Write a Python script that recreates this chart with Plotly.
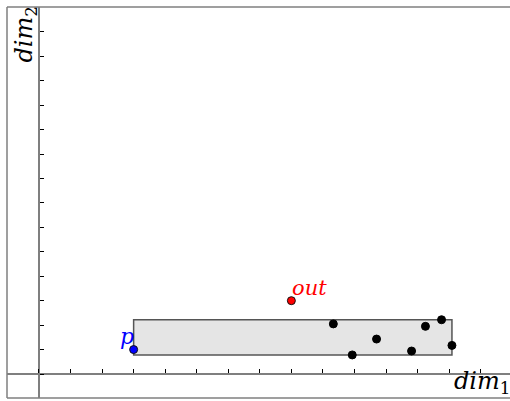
import plotly.graph_objects as go

# data
p_point = (3.0, 1.0)
out_point = (8.0, 3.0)
pts_x = [9.33, 9.93, 10.70, 11.81, 12.25, 12.76, 13.09]
pts_y = [2.05, 0.78, 1.43, 0.94, 1.95, 2.22, 1.17]

x_range = [-1.014, 14.93]
y_range = [-0.982, 15.016]

W, H = 510, 401
ml, mr, mt, mb = 7, 0, 7, 3

all_x = pts_x + [p_point[0]]
all_y = pts_y + [p_point[1]]
rx0, rx1 = min(all_x), max(all_x)
ry0, ry1 = min(all_y), max(all_y)

FONT = "DejaVu Serif"
GRAY = "#7f7f7f"

fig = go.Figure()

fig.add_shape(type="rect", x0=rx0, x1=rx1, y0=ry0, y1=ry1,
              fillcolor="#e5e5e5", line=dict(color="#555555", width=1.5), layer="below")

fig.add_trace(go.Scatter(x=pts_x, y=pts_y, mode="markers",
                         marker=dict(size=8, color="black", line=dict(color="black", width=1)),
                         showlegend=False, hoverinfo="skip"))
fig.add_trace(go.Scatter(x=[p_point[0]], y=[p_point[1]], mode="markers",
                         marker=dict(size=8, color="#0000ff", line=dict(color="#111111", width=1)),
                         showlegend=False, hoverinfo="skip"))
fig.add_trace(go.Scatter(x=[out_point[0]], y=[out_point[1]], mode="markers",
                         marker=dict(size=8, color="#ff0000", line=dict(color="#111111", width=1)),
                         showlegend=False, hoverinfo="skip"))

# frame lines (left, top, bottom)
for s in [dict(x0=0, x1=0, y0=0, y1=1), dict(x0=0, x1=1, y0=1, y1=1), dict(x0=0, x1=1, y0=0, y1=0)]:
    fig.add_shape(type="line", xref="paper", yref="paper", line=dict(color=GRAY, width=1.5), **s)

xpos = (0 - y_range[0]) / (y_range[1] - y_range[0])
ypos = (0 - x_range[0]) / (x_range[1] - x_range[0])

fig.add_annotation(x=p_point[0], y=p_point[1], text="<i>p</i>", showarrow=False,
                   xanchor="right", yanchor="bottom", xshift=2, yshift=-1,
                   font=dict(family=FONT, size=22, color="#0000ff"))
fig.add_annotation(x=out_point[0], y=out_point[1], text="<i>out</i>", showarrow=False,
                   xanchor="left", yanchor="bottom", xshift=-1, yshift=-1,
                   font=dict(family=FONT, size=21, color="#ff0000"))
fig.add_annotation(x=1, y=0, xref="paper", yref="paper", text="<i>dim</i><sub>1</sub>",
                   showarrow=False, xanchor="right", yanchor="bottom", xshift=2, yshift=-2,
                   font=dict(family=FONT, size=24, color="black"))
fig.add_annotation(x=0, y=1, xref="paper", yref="paper", text="<i>dim</i><sub>2</sub>",
                   showarrow=False, textangle=-90, xanchor="left", yanchor="top", xshift=0, yshift=2,
                   font=dict(family=FONT, size=24, color="black"))

fig.update_layout(
    width=W, height=H, margin=dict(l=ml, r=mr, t=mt, b=mb),
    paper_bgcolor="white", plot_bgcolor="white",
    xaxis=dict(range=x_range, showgrid=False, zeroline=False, showline=True, linecolor=GRAY, linewidth=1.5,
               anchor="free", position=xpos, ticks="inside", ticklen=4, tickcolor="black", tickwidth=1,
               dtick=1, tick0=0, showticklabels=False),
    yaxis=dict(range=y_range, showgrid=False, zeroline=False, showline=True, linecolor=GRAY, linewidth=1.5,
               anchor="free", position=ypos, ticks="inside", ticklen=4, tickcolor="black", tickwidth=1,
               dtick=1, tick0=0, showticklabels=False),
)

fig.write_html("out.html")
